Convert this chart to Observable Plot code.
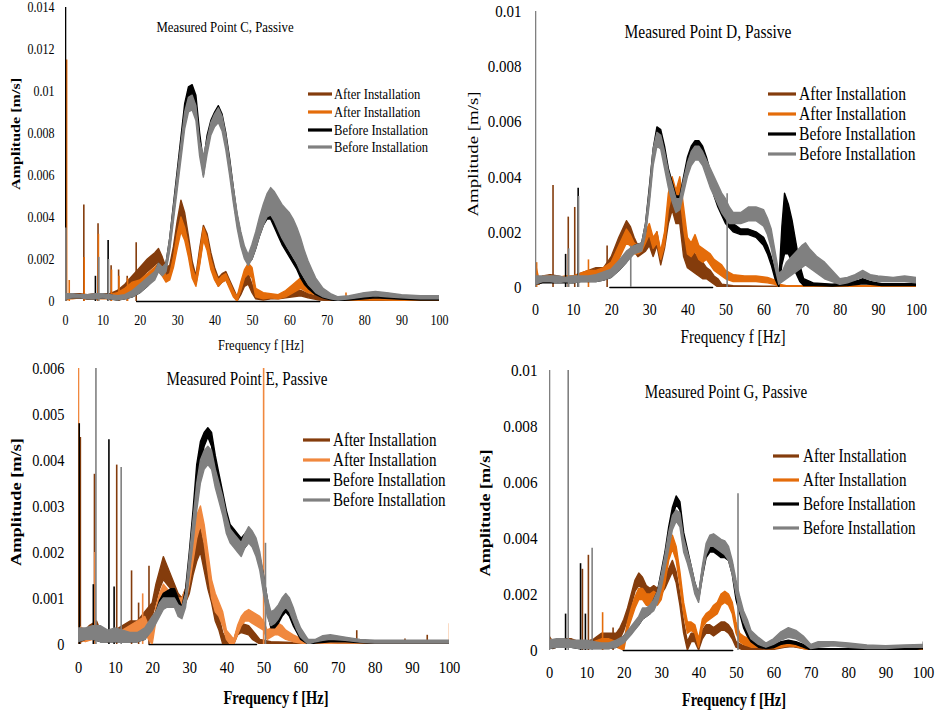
<!DOCTYPE html>
<html><head><meta charset="utf-8">
<script src="https://cdn.jsdelivr.net/npm/d3@7"></script>
<script src="https://cdn.jsdelivr.net/npm/@observablehq/plot@0.6"></script>
<style>
html,body{margin:0;padding:0;background:#fff;}
#page{position:relative;width:936px;height:715px;overflow:hidden;background:#fff;}
.panel{position:absolute;}
.panel svg{overflow:visible;}
.panel svg text{font-family:"Liberation Serif","Times New Roman",serif !important;}
#overlay{position:absolute;left:0;top:0;pointer-events:none;}
</style></head><body><div id="page"></div>
<script>
// ---------- shared categories / labels ----------
const seriesKeys = ["brown", "orange", "black", "gray"];
const legendLabels = ["After Installation", "After Installation", "Before Installation", "Before Installation"];
const freqTicks = [0, 10, 20, 30, 40, 50, 60, 70, 80, 90, 100];
const xTitle = "Frequency f [Hz]";
const yTitle = "Amplitude [m/s]";
// amplitudes below are written in 10^-3 m/s: [frequency Hz, band low, band high]
const UNIT = 1e-3;

// ---------- Panel C ----------
const cTitle = "Measured Point C, Passive";
const cYTicks = [0, 0.002, 0.004, 0.006, 0.008, 0.01, 0.012, 0.014];
const cBrown = [[0,0.1,0.3],[1,0.1,0.3],[2,0.15,0.35],[4,0.15,0.35],[6,0.1,0.3],[8,0.15,0.35],[10,0.15,0.35],[12,0.1,0.35],[14,0.15,0.5],[16,0.3,0.8],[18,0.6,1.2],[20,1.0,1.6],[22,1.4,2.0],[24,1.7,2.3],[25,1.9,2.5],[26,1.6,2.1],[27,1.2,1.6],[28,1.3,1.7],[29,2.0,2.6],[30,3.0,3.8],[31,3.9,4.8],[32,3.4,4.2],[33,2.4,3.1],[34,1.3,1.9],[35,0.8,1.2],[36,1.8,2.5],[37,3.0,3.6],[38,2.6,3.2],[39,1.8,2.3],[40,1.1,1.6],[41,0.7,1.1],[42,0.9,1.3],[43,1.0,1.4],[44,0.7,1.0],[45,0.3,0.6],[46,0.0,0.2],[47,0.3,0.7],[48,0.7,1.2],[49,0.8,1.3],[50,0.4,0.8],[51,0.1,0.3],[53,0.05,0.25],[55,0.1,0.3],[57,0.1,0.25],[59,0.15,0.4],[61,0.2,0.5],[63,0.25,0.5],[65,0.15,0.35],[68,0.05,0.2],[72,0.0,0.1],[80,0.02,0.1],[90,0.02,0.08],[100,0.02,0.08]];
const cOrange = [[0,0.1,0.3],[2,0.1,0.3],[4,0.15,0.3],[6,0.1,0.25],[8,0.1,0.3],[10,0.1,0.3],[12,0.1,0.3],[14,0.1,0.4],[16,0.2,0.6],[18,0.5,0.9],[20,0.7,1.0],[22,0.9,1.3],[24,1.2,1.6],[25,1.4,1.8],[26,1.2,1.6],[27,0.9,1.2],[28,1.0,1.3],[29,1.6,2.1],[30,2.5,3.2],[31,3.3,4.0],[32,2.9,3.5],[33,2.1,2.7],[34,1.1,1.6],[35,0.7,1.1],[36,1.7,2.3],[37,2.9,3.5],[38,2.4,3.0],[39,1.5,2.0],[40,1.0,1.4],[41,0.7,1.0],[42,0.9,1.2],[43,1.0,1.3],[44,0.6,0.9],[45,0.2,0.5],[46,0.0,0.2],[47,0.5,0.9],[48,1.1,1.5],[49,1.3,1.8],[50,1.1,1.6],[51,0.2,0.6],[53,0.1,0.4],[55,0.15,0.35],[57,0.1,0.3],[59,0.2,0.5],[61,0.4,0.8],[63,0.6,1.1],[65,0.4,0.8],[67,0.3,0.6],[69,0.2,0.5],[71,0.05,0.2],[75,0.02,0.1],[80,0.05,0.15],[85,0.05,0.12],[90,0.02,0.08],[100,0.02,0.08]];
const cBlack = [[0,0.1,0.3],[2,0.15,0.3],[4,0.15,0.3],[6,0.1,0.25],[8,0.1,0.3],[10,0.15,0.3],[12,0.1,0.3],[14,0.05,0.2],[16,0.1,0.25],[18,0.2,0.4],[20,0.4,0.6],[22,0.7,0.9],[24,1.1,1.3],[25,1.6,1.8],[26,1.3,1.5],[27,1.5,1.8],[28,2.6,3.0],[30,5.6,6.2],[32,8.7,9.4],[33,9.7,10.2],[34,9.9,10.3],[35,9.3,9.8],[36,7.4,8.0],[37,6.0,6.6],[38,7.3,7.9],[39,8.2,8.6],[40,8.6,9.0],[41,8.8,9.3],[42,8.5,8.9],[43,7.6,8.0],[44,6.3,6.8],[45,4.9,5.4],[46,3.7,4.1],[47,2.8,3.2],[48,2.1,2.4],[49,1.8,2.1],[50,2.0,2.4],[51,2.5,2.9],[52,3.1,3.5],[53,3.6,3.9],[54,3.9,4.1],[55,3.9,4.1],[56,3.5,3.8],[57,3.1,3.4],[58,2.7,3.0],[59,2.4,2.6],[60,2.1,2.3],[61,1.8,2.0],[62,1.5,1.7],[63,1.1,1.3],[64,0.8,1.0],[65,0.6,0.7],[67,0.3,0.4],[69,0.15,0.25],[71,0.05,0.12],[73,0.02,0.08],[76,0.05,0.12],[80,0.1,0.2],[83,0.15,0.25],[88,0.1,0.2],[95,0.05,0.15],[100,0.05,0.15]];
const cGray = [[0,0.1,0.35],[2,0.15,0.35],[4,0.15,0.3],[6,0.1,0.3],[8,0.1,0.35],[10,0.15,0.35],[12,0.1,0.3],[14,0.05,0.25],[16,0.1,0.3],[18,0.2,0.5],[20,0.4,0.8],[22,0.7,1.1],[24,1.0,1.4],[25,1.4,1.8],[26,1.2,1.6],[27,1.4,1.8],[28,2.4,3.0],[30,5.3,6.0],[32,8.2,9.0],[33,9.0,9.7],[34,9.1,9.8],[35,8.6,9.3],[36,6.9,7.6],[37,5.9,6.9],[38,7.0,7.7],[39,7.9,8.5],[40,8.3,8.9],[41,8.5,9.2],[42,8.1,8.8],[43,7.2,7.9],[44,6.0,6.7],[45,4.7,5.4],[46,3.5,4.2],[47,2.6,3.3],[48,2.0,2.6],[49,1.7,2.2],[50,2.0,2.7],[51,2.5,3.3],[52,3.1,4.0],[53,3.6,4.6],[54,4.0,5.1],[55,4.1,5.4],[56,3.8,5.2],[57,3.4,4.9],[58,3.0,4.6],[59,2.7,4.4],[60,2.4,4.2],[61,2.1,3.9],[62,1.8,3.5],[63,1.4,3.0],[64,1.1,2.4],[65,0.8,1.9],[66,0.6,1.5],[67,0.4,1.1],[69,0.2,0.6],[71,0.1,0.35],[73,0.05,0.2],[76,0.1,0.25],[80,0.2,0.4],[83,0.25,0.45],[86,0.2,0.4],[90,0.15,0.3],[95,0.1,0.25],[100,0.1,0.25]];
// spikes: [frequency, peak amplitude, series]
const cSpikes = [[0,14,"black"],[0.3,11.5,"orange"],[0.1,3.5,"gray"],[1,1.0,"orange"],[4.9,4.6,"brown"],[5,2.1,"orange"],[8,1.2,"black"],[8.7,3.7,"brown"],[8.8,3.2,"orange"],[8.9,2.1,"gray"],[11.4,2.9,"black"],[11.5,2.0,"gray"],[12.2,1.7,"brown"],[12.3,1.5,"orange"],[14.2,1.5,"brown"],[14.3,1.2,"orange"],[16.5,1.2,"brown"],[16.6,1.1,"orange"],[18.9,2.8,"brown"],[75,0.4,"orange"]];
const cZero = [19, 68];

// ---------- Panel D ----------
const dTitle = "Measured Point D, Passive";
const dYTicks = [0, 0.002, 0.004, 0.006, 0.008, 0.01];
const dBrown = [[0,0.2,0.6],[1,0.1,0.3],[2,0.2,0.4],[4,0.2,0.45],[6,0.2,0.4],[8,0.2,0.35],[10,0.2,0.4],[12,0.3,0.5],[14,0.3,0.6],[16,0.3,0.7],[18,0.4,0.7],[20,0.7,1.1],[22,1.3,1.8],[23,1.6,2.1],[24,1.9,2.4],[25,1.7,2.2],[26,1.3,1.8],[27,1.1,1.5],[28,1.2,1.5],[29,1.3,1.7],[30,1.5,1.9],[31,1.1,1.5],[32,1.5,2.0],[33,0.8,1.2],[34,1.4,1.9],[35,2.3,2.9],[36,2.8,3.6],[37,2.3,3.0],[38,2.3,3.5],[39,1.1,2.1],[40,0.7,1.4],[41,0.6,1.3],[42,0.5,1.2],[43,0.4,1.0],[44,0.3,0.9],[45,0.3,0.7],[46,0.2,0.6],[47,0.1,0.4],[48,0.0,0.3],[49,0.0,0.1],[52,0.0,0.05],[60,0.0,0.03],[70,0.0,0.03],[100,0.0,0.03]];
const dOrange = [[0,0.2,0.9],[1,0.1,0.3],[2,0.2,0.4],[4,0.2,0.4],[6,0.2,0.35],[8,0.2,0.4],[10,0.2,0.4],[12,0.3,0.5],[14,0.3,0.6],[16,0.3,0.6],[18,0.4,0.7],[20,0.5,0.9],[22,1.0,1.5],[23,1.3,1.8],[24,1.6,2.1],[25,1.5,1.9],[26,1.2,1.6],[27,1.2,1.5],[28,1.3,1.5],[29,1.6,2.0],[30,1.9,2.3],[31,1.4,1.8],[32,1.6,2.0],[33,1.0,1.3],[34,1.5,2.0],[35,2.8,3.4],[36,3.4,4.0],[37,2.8,3.5],[38,3.4,4.0],[39,2.1,2.9],[40,1.2,1.8],[41,1.1,1.6],[42,1.3,1.9],[43,1.0,1.5],[44,0.9,1.4],[45,1.0,1.3],[46,0.8,1.2],[47,0.6,1.0],[48,0.5,0.9],[49,0.4,0.8],[50,0.3,0.6],[52,0.2,0.45],[55,0.2,0.4],[58,0.2,0.4],[61,0.15,0.35],[63,0.1,0.25],[64,0.0,0.1],[66,0.0,0.05],[80,0.0,0.05],[100,0.0,0.05]];
const dBlack = [[0,0.1,0.3],[2,0.15,0.3],[4,0.15,0.3],[6,0.15,0.3],[8,0.15,0.3],[10,0.15,0.3],[12,0.2,0.35],[14,0.2,0.35],[16,0.2,0.35],[18,0.25,0.45],[20,0.35,0.55],[22,0.6,0.8],[24,0.9,1.1],[26,1.3,1.5],[28,1.4,1.6],[29,2.0,2.3],[30,3.2,3.6],[31,4.6,5.0],[32,5.5,5.8],[33,5.4,5.7],[34,4.7,5.1],[35,3.9,4.3],[36,3.4,3.8],[37,3.0,3.3],[38,3.0,3.3],[39,3.6,4.0],[40,4.3,4.7],[41,4.8,5.1],[42,5.0,5.3],[43,5.0,5.3],[44,4.7,5.1],[45,4.3,4.7],[46,3.8,4.2],[47,3.3,3.7],[48,2.9,3.3],[49,2.6,2.9],[50,2.3,2.6],[52,2.0,2.3],[54,1.9,2.1],[56,1.9,2.1],[58,1.8,2.0],[60,1.5,1.8],[61,1.2,1.5],[62,0.8,1.1],[63,0.3,0.6],[64,0.0,0.2],[64.8,0.8,2.2],[65.5,1.2,3.4],[66.5,1.2,3.0],[67.5,0.9,2.4],[68.5,0.5,1.6],[69.5,0.2,0.8],[70.5,0.05,0.3],[73,0.05,0.15],[78,0.03,0.1],[82,0.05,0.15],[85,0.1,0.25],[86,0.12,0.3],[88,0.1,0.2],[91,0.05,0.12],[100,0.05,0.12]];
const dGray = [[0,0.1,0.4],[2,0.2,0.4],[4,0.2,0.4],[6,0.15,0.4],[8,0.2,0.35],[10,0.15,0.4],[12,0.2,0.4],[14,0.2,0.4],[16,0.2,0.45],[18,0.25,0.55],[20,0.35,0.65],[22,0.6,0.95],[24,0.9,1.3],[26,1.2,1.5],[28,1.3,1.6],[29,1.9,2.3],[30,3.0,3.5],[31,4.4,5.0],[32,5.1,5.6],[33,5.0,5.5],[34,4.3,4.9],[35,3.6,4.2],[36,3.1,3.7],[37,2.7,3.2],[38,2.8,3.2],[39,3.4,3.9],[40,4.0,4.5],[41,4.4,4.9],[42,4.6,5.1],[43,4.6,5.1],[44,4.4,4.9],[45,4.0,4.6],[46,3.6,4.3],[47,3.3,4.0],[48,3.0,3.7],[49,2.7,3.4],[50,2.5,3.2],[51,2.3,2.9],[52,2.3,2.7],[54,2.3,2.7],[56,2.4,2.9],[58,2.4,2.9],[60,2.2,2.8],[61,1.9,2.5],[62,1.4,2.1],[63,0.7,1.3],[64,0.1,0.5],[65,0.2,0.6],[66,0.3,0.9],[68,0.5,1.2],[70,0.7,1.5],[71,0.8,1.6],[72,0.7,1.4],[74,0.5,1.1],[76,0.3,0.9],[78,0.2,0.6],[80,0.1,0.3],[82,0.15,0.35],[84,0.25,0.45],[86,0.35,0.6],[88,0.25,0.45],[90,0.2,0.4],[94,0.2,0.35],[97,0.2,0.4],[100,0.15,0.35]];
const dSpikes = [[0,10,"gray"],[0.3,0.9,"orange"],[4.6,3.7,"brown"],[7.9,1.2,"black"],[8.6,2.55,"brown"],[8.7,1.4,"gray"],[10.3,2.9,"brown"],[11.2,3.6,"black"],[11.3,3.3,"gray"],[13.9,1.0,"orange"],[18.8,1.5,"brown"],[25,1.5,"gray"],[50.3,3.4,"gray"]];
const dZero = [19.5, 46.5];

// ---------- Panel E ----------
const eTitle = "Measured Point E, Passive";
const eYTicks = [0, 0.001, 0.002, 0.003, 0.004, 0.005, 0.006];
const eBrown = [[0,0.1,0.5],[1,0.05,0.3],[2,0.1,0.3],[3,0.1,0.4],[5,0.1,0.5],[6,0.1,0.3],[8,0.05,0.25],[10,0.1,0.3],[12,0.1,0.4],[14,0.2,0.5],[16,0.2,0.5],[18,0.3,0.7],[19,0.4,0.8],[20,0.6,0.9],[21,0.9,1.3],[22,1.2,1.6],[23,1.4,1.9],[24,1.3,1.7],[25,1.2,1.5],[26,1.0,1.3],[27,0.9,1.1],[28,0.8,1.0],[29,0.9,1.2],[30,1.1,1.5],[31,1.5,1.9],[32,1.8,2.3],[33,2.0,2.5],[34,1.6,2.1],[35,1.2,1.6],[36,0.9,1.3],[37,0.5,0.9],[38,0.3,0.6],[39,0.0,0.25],[40,0.0,0.1],[42,0.0,0.1],[43,0.2,0.35],[44,0.25,0.45],[46,0.2,0.4],[47,0.1,0.3],[48,0.05,0.2],[49,0.0,0.1],[52,0.0,0.05],[60,0.0,0.03],[100,0.0,0.03]];
const eOrange = [[0,0.1,0.4],[2,0.05,0.3],[4,0.1,0.3],[6,0.1,0.3],[8,0.05,0.2],[10,0.1,0.3],[12,0.1,0.3],[14,0.2,0.4],[16,0.2,0.5],[18,0.3,0.6],[19,0.1,0.4],[20,0.0,0.2],[21,0.5,0.8],[22,0.8,1.1],[23,0.9,1.3],[24,0.9,1.2],[25,0.9,1.1],[26,0.9,1.1],[27,0.8,1.0],[28,0.7,1.0],[29,0.9,1.2],[30,1.3,1.7],[31,1.8,2.2],[32,2.3,2.8],[33,2.6,3.0],[34,2.2,2.6],[35,1.6,2.0],[36,1.0,1.4],[37,0.7,1.1],[38,0.6,0.9],[39,0.4,0.7],[40,0.1,0.3],[41,0.0,0.2],[42,0.0,0.1],[43,0.2,0.4],[44,0.4,0.6],[45,0.5,0.7],[46,0.5,0.75],[47,0.45,0.7],[48,0.4,0.65],[49,0.35,0.6],[50,0.3,0.5],[51,0.1,0.3],[52,0.15,0.35],[53,0.2,0.4],[54,0.2,0.45],[55,0.15,0.4],[56,0.1,0.3],[58,0.05,0.2],[60,0.02,0.12],[62,0.0,0.05],[70,0.02,0.05],[80,0.02,0.06],[90,0.02,0.06],[100,0.02,0.06]];
const eBlack = [[0,0.05,0.3],[2,0.1,0.3],[4,0.1,0.35],[6,0.05,0.3],[8,0.05,0.25],[10,0.05,0.3],[12,0.05,0.25],[14,0.05,0.2],[16,0.05,0.2],[18,0.1,0.3],[20,0.35,0.55],[21,0.5,0.7],[22,0.7,0.95],[23,0.9,1.1],[24,0.95,1.15],[25,1.0,1.2],[26,1.0,1.2],[27,0.8,1.0],[28,0.6,0.8],[29,0.9,1.2],[30,1.6,2.0],[31,2.4,2.9],[32,3.3,3.9],[33,3.9,4.4],[34,4.3,4.6],[35,4.5,4.7],[36,4.3,4.6],[37,3.8,4.1],[38,3.4,3.7],[39,3.0,3.3],[40,2.6,2.9],[41,2.3,2.6],[42,2.2,2.5],[43,2.1,2.4],[44,2.0,2.3],[45,2.1,2.4],[46,2.2,2.5],[47,2.2,2.4],[48,2.0,2.2],[49,1.7,1.9],[50,1.2,1.5],[51,0.7,1.0],[52,0.35,0.55],[53,0.35,0.55],[54,0.45,0.65],[55,0.6,0.75],[56,0.7,0.85],[57,0.6,0.75],[58,0.4,0.55],[59,0.25,0.4],[60,0.1,0.25],[62,0.0,0.1],[64,0.02,0.08],[68,0.05,0.12],[72,0.05,0.1],[78,0.02,0.06],[100,0.02,0.06]];
const eGray = [[0,0.05,0.35],[2,0.1,0.35],[4,0.1,0.4],[6,0.05,0.4],[8,0.05,0.3],[10,0.05,0.35],[12,0.05,0.3],[14,0.05,0.25],[16,0.05,0.25],[18,0.1,0.35],[20,0.3,0.6],[21,0.45,0.7],[22,0.6,0.9],[23,0.75,1.0],[24,0.8,1.0],[25,0.8,1.0],[26,0.8,1.0],[27,0.6,0.85],[28,0.55,0.8],[29,0.8,1.1],[30,1.5,1.9],[31,2.2,2.7],[32,2.9,3.5],[33,3.5,4.0],[34,3.8,4.2],[35,3.9,4.3],[36,3.8,4.2],[37,3.4,3.8],[38,3.1,3.5],[39,2.8,3.2],[40,2.4,2.8],[41,2.2,2.5],[42,2.1,2.4],[43,2.0,2.3],[44,1.9,2.2],[45,2.1,2.4],[46,2.2,2.55],[47,2.1,2.45],[48,1.9,2.3],[49,1.6,2.0],[50,1.1,1.5],[51,0.6,1.0],[52,0.4,0.7],[53,0.45,0.75],[54,0.55,0.85],[55,0.7,1.0],[56,0.8,1.1],[57,0.7,1.0],[58,0.5,0.8],[59,0.3,0.55],[60,0.15,0.35],[62,0.0,0.1],[64,0.05,0.1],[66,0.08,0.18],[68,0.1,0.2],[72,0.08,0.15],[76,0.04,0.1],[80,0.02,0.08],[100,0.02,0.08]];
const eSpikes = [[0,6,"orange"],[0.2,4.8,"black"],[0.5,4.5,"brown"],[4,1.3,"black"],[4.3,3.7,"brown"],[4.4,2.0,"orange"],[4.7,6,"gray"],[8.2,4.45,"black"],[9.6,1.25,"black"],[10.3,3.9,"brown"],[11.5,3.85,"gray"],[14.3,1.6,"brown"],[16.2,0.9,"brown"],[17.3,1.1,"orange"],[19,1.7,"brown"],[49.9,6,"orange"],[50.4,2.2,"gray"],[75,0.3,"brown"],[88,0.12,"brown"],[94,0.2,"brown"],[100,0.45,"orange"]];
const eZero = [19, 48];

// ---------- Panel G ----------
const gTitle = "Measured Point G, Passive";
const gYTicks = [0, 0.002, 0.004, 0.006, 0.008, 0.01];
const gBrown = [[0,0.1,0.5],[1,0.05,0.3],[2,0.1,0.3],[3,0.2,0.4],[5,0.2,0.4],[6,0.2,0.4],[8,0.1,0.3],[10,0.1,0.3],[12,0.2,0.4],[14,0.3,0.6],[16,0.3,0.6],[18,0.3,0.6],[19,0.4,0.8],[20,0.7,1.1],[21,1.1,1.5],[22,1.6,2.0],[23,2.1,2.5],[24,2.3,2.75],[25,2.2,2.6],[26,1.9,2.3],[27,1.8,2.2],[28,1.9,2.3],[29,1.8,2.2],[30,2.0,2.4],[31,2.2,2.6],[32,2.5,2.9],[33,2.8,3.2],[34,2.4,2.8],[35,1.6,2.0],[36,0.6,1.0],[37,0.0,0.3],[38,0.3,0.6],[39,0.3,0.6],[40,0.0,0.2],[41,0.4,0.7],[42,0.6,0.9],[43,0.6,0.9],[44,0.5,0.8],[45,0.6,0.9],[46,0.7,1.0],[47,0.7,1.0],[48,0.6,0.9],[49,0.4,0.7],[50,0.1,0.3],[52,0.0,0.15],[56,0.0,0.08],[60,0.02,0.08],[63,0.1,0.15],[65,0.12,0.2],[67,0.08,0.15],[70,0.0,0.05],[100,0.0,0.03]];
const gOrange = [[0,0.1,0.4],[2,0.1,0.3],[4,0.1,0.3],[6,0.1,0.3],[8,0.1,0.3],[10,0.1,0.3],[12,0.1,0.3],[14,0.1,0.4],[16,0.1,0.4],[18,0.1,0.3],[19,0.05,0.2],[20,0.0,0.3],[21,0.7,1.0],[22,1.1,1.5],[23,1.5,1.9],[24,1.8,2.2],[25,1.8,2.2],[26,1.6,2.0],[27,1.6,2.0],[28,1.7,2.1],[29,1.6,2.0],[30,1.8,2.2],[31,2.4,2.8],[32,3.2,3.7],[33,3.6,4.1],[34,3.2,3.7],[35,2.3,2.8],[36,1.3,1.7],[37,0.6,1.0],[38,0.7,1.0],[39,0.6,0.9],[40,0.1,0.4],[41,0.8,1.1],[42,1.0,1.3],[43,1.1,1.4],[44,1.2,1.6],[45,1.3,1.7],[46,1.6,2.0],[47,1.7,2.1],[48,1.6,2.0],[49,1.3,1.7],[50,0.6,1.0],[51,0.3,0.6],[52,0.2,0.5],[54,0.1,0.35],[56,0.1,0.3],[58,0.1,0.2],[60,0.05,0.2],[62,0.1,0.2],[64,0.15,0.25],[66,0.12,0.22],[68,0.05,0.15],[70,0.0,0.05],[80,0.02,0.05],[100,0.02,0.05]];
const gBlack = [[0,0.05,0.3],[2,0.1,0.35],[4,0.1,0.35],[6,0.1,0.3],[8,0.05,0.3],[10,0.05,0.3],[12,0.05,0.25],[14,0.05,0.2],[16,0.05,0.2],[18,0.1,0.3],[20,0.3,0.5],[22,0.6,0.8],[24,0.9,1.1],[25,1.1,1.35],[26,1.2,1.4],[27,1.3,1.5],[28,1.5,1.8],[29,1.8,2.1],[30,2.4,2.8],[31,3.1,3.5],[32,3.9,4.4],[33,4.7,5.1],[34,5.2,5.5],[35,5.0,5.3],[36,3.8,4.2],[37,3.3,3.6],[38,2.7,3.0],[39,2.1,2.4],[40,1.8,2.0],[41,2.6,2.9],[42,3.3,3.6],[43,3.5,3.8],[44,3.5,3.8],[45,3.4,3.7],[46,3.3,3.6],[47,3.3,3.6],[48,3.2,3.5],[49,2.7,3.1],[50,1.8,2.2],[51,1.3,1.6],[52,0.8,1.1],[53,0.5,0.8],[54,0.3,0.5],[56,0.1,0.3],[58,0.05,0.15],[60,0.08,0.18],[62,0.2,0.3],[64,0.25,0.35],[66,0.2,0.3],[68,0.1,0.2],[70,0.0,0.05],[80,0.02,0.05],[98,0.02,0.08],[100,0.05,0.15]];
const gGray = [[0,0.05,0.35],[2,0.1,0.4],[4,0.1,0.4],[6,0.1,0.35],[8,0.05,0.35],[10,0.05,0.35],[12,0.05,0.3],[14,0.05,0.25],[16,0.05,0.25],[18,0.1,0.35],[20,0.25,0.5],[22,0.55,0.85],[24,0.9,1.2],[25,1.1,1.5],[26,1.2,1.5],[27,1.3,1.6],[28,1.4,1.8],[29,1.7,2.1],[30,2.2,2.7],[31,2.9,3.4],[32,3.6,4.2],[33,4.3,4.8],[34,4.6,5.0],[35,4.4,4.9],[36,3.5,4.0],[37,3.1,3.5],[38,2.6,3.0],[39,2.0,2.4],[40,1.7,2.0],[41,2.6,3.0],[42,3.4,3.8],[43,3.7,4.1],[44,3.7,4.15],[45,3.6,4.05],[46,3.5,3.95],[47,3.4,3.9],[48,3.2,3.7],[49,2.7,3.2],[50,2.0,2.5],[51,1.4,1.9],[52,1.0,1.4],[53,0.7,1.1],[54,0.4,0.7],[56,0.2,0.45],[58,0.1,0.25],[60,0.2,0.4],[62,0.35,0.65],[64,0.45,0.8],[66,0.4,0.7],[68,0.25,0.5],[70,0.05,0.2],[72,0.1,0.3],[76,0.15,0.3],[80,0.1,0.25],[85,0.05,0.18],[90,0.05,0.15],[95,0.1,0.18],[100,0.1,0.2]];
const gSpikes = [[0,10,"gray"],[4.3,1.3,"black"],[5,10,"gray"],[8.3,3.1,"black"],[8.8,2.9,"brown"],[9.6,1.3,"black"],[10.4,3.4,"brown"],[11.4,3.65,"gray"],[14.2,1.35,"orange"],[17,0.8,"brown"],[50.4,5.6,"gray"],[100,0.3,"black"]];
const gZero = [19.7, 49];

// ---------- colours ----------
const colorsCDG = {brown: "#843C0C", orange: "#E46C0A", black: "#000000", gray: "#808080"};
const colorsE = {brown: "#843C0C", orange: "#F0883E", black: "#000000", gray: "#808080"};

// ---------- layout ----------
const panels = [
  {box:[0,0,468,355], m:[7,29,54,65], yMax:0.014, yTicks:cYTicks, series:{brown:cBrown,orange:cOrange,black:cBlack,gray:cGray}, spikes:cSpikes, zero:cZero, colors:colorsCDG,
   yFont:12, xFont:12, yPad:11, xPad:14,
   title:cTitle, titlePos:[225,27], titleSize:12.8,
   leg:{x1:308,x2:332,tx:334,ys:[94,112,130,147],size:12.6},
   yLab:[15,134,112,13,"bold"], xLab:[261,345,86,12.5,"normal"]},
  {box:[466,0,470,355], m:[11,20,68,69], yMax:0.01, yTicks:dYTicks, series:{brown:dBrown,orange:dOrange,black:dBlack,gray:dGray}, spikes:dSpikes, zero:dZero, colors:colorsCDG,
   yFont:15, xFont:14, yPad:14, xPad:16,
   title:dTitle, titlePos:[708,32], titleSize:15.5,
   leg:{x1:768,x2:796,tx:799,ys:[94,114,134,154],size:15.6},
   yLab:[473,154,125,15,"normal"], xLab:[733,337,105,15,"normal"]},
  {box:[0,355,468,360], m:[13,19,71,78], yMax:0.006, yTicks:eYTicks, series:{brown:eBrown,orange:eOrange,black:eBlack,gray:eGray}, spikes:eSpikes, zero:eZero, colors:colorsE,
   yFont:14.4, xFont:14.5, yPad:14, xPad:17,
   title:eTitle, titlePos:[247,379], titleSize:15.1,
   leg:{x1:303,x2:330,tx:333,ys:[440,460,480,500],size:15.1},
   yLab:[16,502,128,15,"bold"], xLab:[276,698,105,15,"bold"]},
  {box:[466,355,470,360], m:[15,13,65,83], yMax:0.01, yTicks:gYTicks, series:{brown:gBrown,orange:gOrange,black:gBlack,gray:gGray}, spikes:gSpikes, zero:gZero, colors:colorsCDG,
   yFont:15.2, xFont:14.5, yPad:12, xPad:16,
   title:gTitle, titlePos:[726,392], titleSize:15.1,
   leg:{x1:773,x2:799,tx:803,ys:[456,480,504,528],size:15.1},
   yLab:[485,513,127,15,"bold"], xLab:[734,700,104,15,"bold"]}
];

const FONT = "Liberation Serif, Times New Roman, serif";
const fmt = d => d === 0 ? "0" : String(+d.toFixed(3));
const page = document.getElementById("page");

for (const p of panels) {
  const [left, top, w, h] = p.box;
  const [mt, mr, mb, ml] = p.m;
  const marks = [];
  marks.push(Plot.line(p.zero, {x: d => d, y: () => 0, stroke: "#000", strokeWidth: 1.3}));
  for (const k of seriesKeys) {
    const col = p.colors[k];
    const band = p.series[k].map(([f, lo, hi]) => ({f, lo: lo * UNIT, hi: hi * UNIT}));
    marks.push(Plot.areaY(band, {x: "f", y1: "lo", y2: "hi", fill: col, stroke: col, strokeWidth: 1.4, clip: true}));
    const sp = p.spikes.filter(s => s[2] === k).map(([f, a]) => ({f, a: a * UNIT}));
    marks.push(Plot.ruleX(sp, {x: "f", y1: () => 0, y2: "a", stroke: col, strokeWidth: 1.6, clip: true}));
  }
  marks.push(Plot.axisY({ticks: p.yTicks, tickSize: 0, tickPadding: p.yPad, tickFormat: fmt, label: null, fontSize: p.yFont, fontFamily: FONT}));
  marks.push(Plot.axisX({ticks: freqTicks, tickSize: 0, tickPadding: p.xPad, tickFormat: d => String(d), label: null, fontSize: p.xFont, fontFamily: FONT}));
  const chart = Plot.plot({
    width: w, height: h,
    marginTop: mt, marginRight: mr, marginBottom: mb, marginLeft: ml,
    x: {domain: [0, 100]},
    y: {domain: [0, p.yMax]},
    style: {fontFamily: FONT, color: "#000", background: "transparent", overflow: "visible"},
    marks
  });
  // taller glyphs, as in the reference picture
  d3.select(chart).selectAll('g[aria-label$="tick label"] text').each(function () {
    const t = this.getAttribute("transform") || "";
    this.setAttribute("transform", t + " scale(1,1.15)");
  });
  const div = document.createElement("div");
  div.className = "panel";
  div.style.left = left + "px"; div.style.top = top + "px";
  div.appendChild(chart);
  page.appendChild(div);
}

// ---------- overlay: titles, legends, axis titles ----------
const NS = "http://www.w3.org/2000/svg";
const ov = document.createElementNS(NS, "svg");
ov.setAttribute("id", "overlay");
ov.setAttribute("width", 936); ov.setAttribute("height", 715);
page.appendChild(ov);
function txt(str, x, y, size, opts = {}) {
  const g = document.createElementNS(NS, "g");
  const rot = opts.rotate ? " rotate(-90)" : "";
  const sy = opts.rotate ? "" : ` scale(1,${opts.sy || 1.2})`;
  g.setAttribute("transform", `translate(${x},${y})${rot}${sy}`);
  const t = document.createElementNS(NS, "text");
  t.textContent = str;
  t.setAttribute("font-family", FONT);
  t.setAttribute("font-size", size);
  t.setAttribute("fill", "#000");
  t.setAttribute("dominant-baseline", "central");
  t.setAttribute("text-anchor", opts.anchor || "middle");
  if (opts.weight) t.setAttribute("font-weight", opts.weight);
  if (opts.length) { t.setAttribute("textLength", opts.length); t.setAttribute("lengthAdjust", "spacingAndGlyphs"); }
  if (opts.length && (opts.anchor || "middle") === "middle") { t.setAttribute("x", -opts.length / 2); t.setAttribute("text-anchor", "start"); }
  g.appendChild(t);
  ov.appendChild(g);
}
for (const p of panels) {
  txt(p.title, p.titlePos[0], p.titlePos[1], p.titleSize);
  seriesKeys.forEach((k, i) => {
    const y = p.leg.ys[i];
    const l = document.createElementNS(NS, "line");
    l.setAttribute("x1", p.leg.x1); l.setAttribute("x2", p.leg.x2);
    l.setAttribute("y1", y); l.setAttribute("y2", y);
    l.setAttribute("stroke", p.colors[k]); l.setAttribute("stroke-width", 3.2);
    ov.appendChild(l);
    txt(legendLabels[i], p.leg.tx, y, p.leg.size, {anchor: "start"});
  });
  txt(yTitle, p.yLab[0], p.yLab[1], p.yLab[3], {rotate: true, length: p.yLab[2], weight: p.yLab[4]});
  txt(xTitle, p.xLab[0], p.xLab[1], p.xLab[3], {length: p.xLab[2], weight: p.xLab[4]});
}
</script></body></html>
